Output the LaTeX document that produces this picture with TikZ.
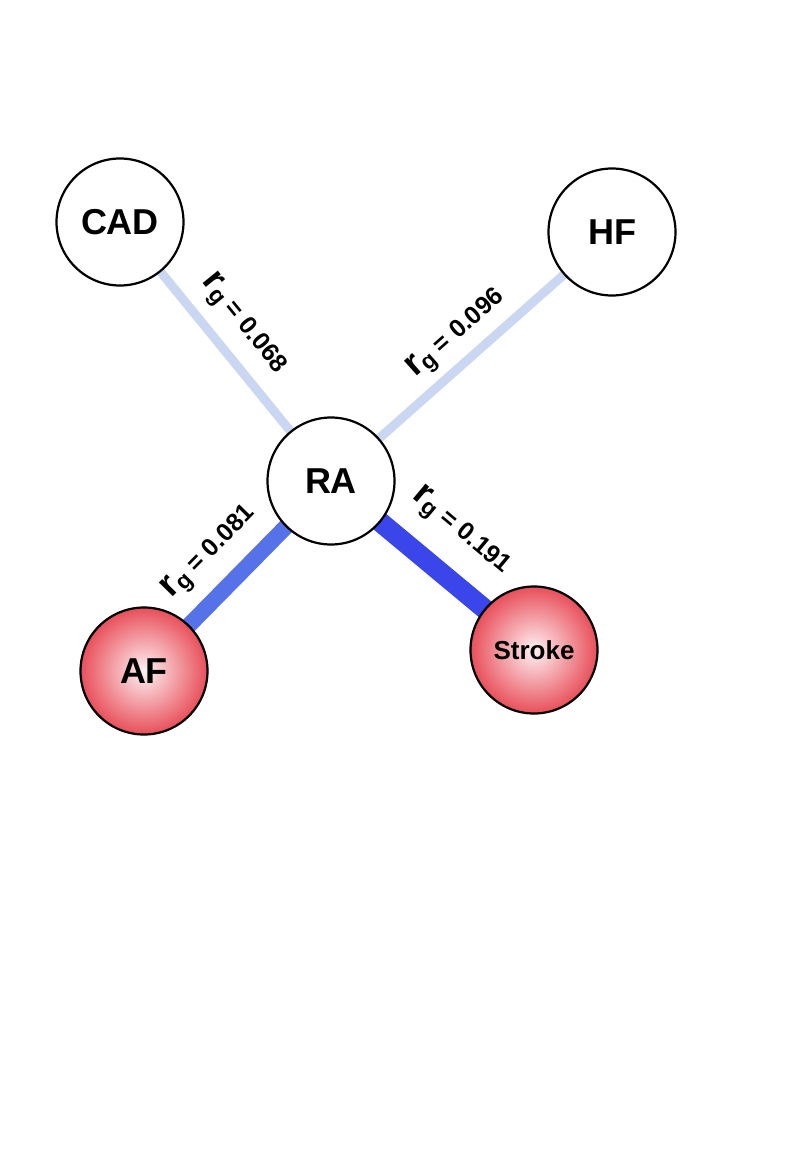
\documentclass[tikz,border=0pt]{standalone}
\usepackage{fontspec}
\setmainfont{Liberation Sans}
\usetikzlibrary{backgrounds}
\definecolor{weak}{HTML}{C9D7F3}
\definecolor{mid}{HTML}{5672E8}
\definecolor{strong}{HTML}{3A45EA}
\definecolor{redout}{HTML}{E84F5A}
\definecolor{redin}{HTML}{FDF1F3}
\newcommand{\rglabel}[1]{\fontsize{25}{25}\selectfont\bfseries{\fontsize{37}{37}\selectfont r}\raisebox{-4pt}{\fontsize{23}{23}\selectfont g} = #1}
\begin{document}
\begin{tikzpicture}[x=1pt,y=-1pt,
  trait/.style={circle, draw, line width=2.2pt, minimum size=127pt, inner sep=0pt,
    fill=white, font=\fontsize{36}{36}\selectfont\bfseries},
  outcome/.style={trait, shading=radial, inner color=redin, outer color=redout},
  corr/.style={sloped, inner sep=0pt, text=black}]
  \useasboundingbox (0,0) rectangle (785,1155);

  % traits
  \node [trait] (cad) at (120,222) {CAD};
  \node [trait] (hf) at (612,232) {HF};
  \node [trait] (ra) at (331,481) {RA};
  \node [outcome] (af) at (144,671) {AF};
  \node [outcome, font=\fontsize{26}{26}\selectfont\bfseries] (stroke) at (534,650) {Stroke};

  % genetic correlations
  \begin{pgfonlayer}{background}
  \draw [weak, line width=9pt] (cad.center) -- (ra.center)
    node [corr, pos=0.47, above=12pt] {\rglabel{0.068}};
  \draw [weak, line width=9pt] (ra.center) -- (hf.center)
    node [corr, pos=0.51, above=8pt] {\rglabel{0.096}};
  \draw [mid, line width=16pt] (af.center) -- (ra.center)
    node [corr, pos=0.49, above=14pt] {\rglabel{0.081}};
  \draw [strong, line width=20pt] (ra.center) -- (stroke.center)
    node [corr, pos=0.5, above=20pt] {\rglabel{0.191}};
  \end{pgfonlayer}
\end{tikzpicture}
\end{document}
